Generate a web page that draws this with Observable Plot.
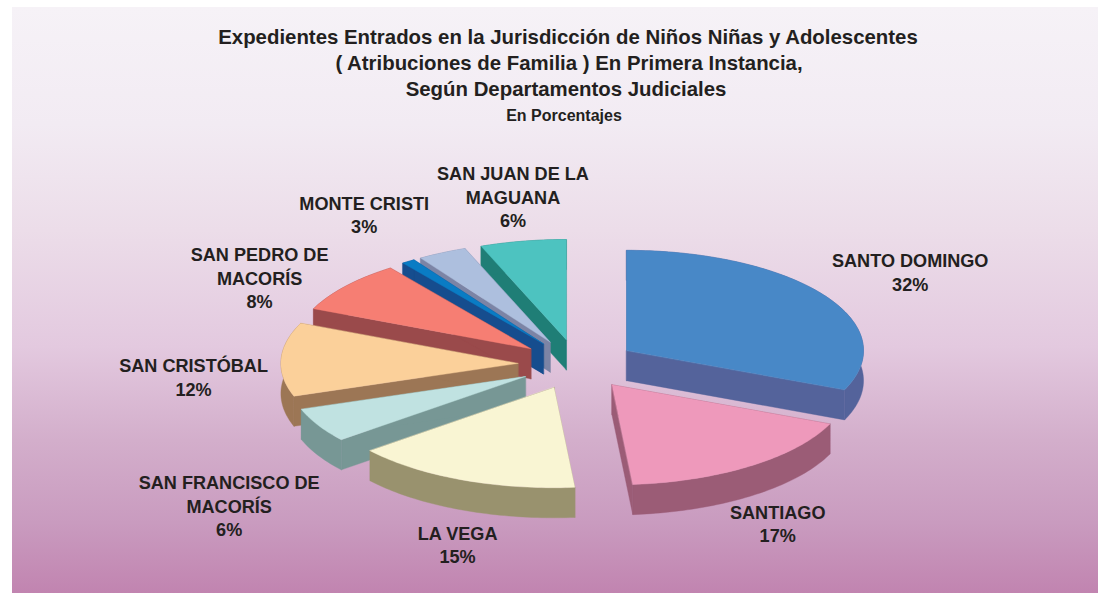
<!DOCTYPE html>
<html lang="es">
<head>
<meta charset="utf-8">
<script src="https://cdn.jsdelivr.net/npm/d3@7"></script>
<script src="https://cdn.jsdelivr.net/npm/@observablehq/plot@0.6"></script>
<style>
html,body{margin:0;padding:0;background:#fff;width:1098px;height:593px;overflow:hidden}
#chart{position:absolute;left:12px;top:7px;width:1086px;height:586px;
 background:linear-gradient(to bottom,#f6f2f7 0%,#f2ebf3 20%,#ecdde9 38%,#e3c9df 58%,#d3aecb 74%,#c99bbf 88%,#c184b0 100%);
 font-family:"Liberation Sans",Arial,sans-serif;color:#231f20}
#head{position:absolute;left:-12px;width:1132px;top:17px;text-align:center;font-weight:bold}
#head .t{font-size:20.4px;line-height:26px}
#head .s{font-size:16px;line-height:28px}
#plot{position:absolute;left:-12px;top:123px}
svg{display:block;background:transparent!important}
</style>
</head>
<body>
<div id="chart">
 <div id="head">
  <div class="t" style="padding-left:4px">Expedientes Entrados en la Jurisdicción de Niños Niñas y Adolescentes</div>
  <div class="t" style="padding-left:6px">( Atribuciones de Familia ) En Primera Instancia,</div>
  <div class="t">Según Departamentos Judiciales</div>
  <div class="s" style="padding-right:4px">En Porcentajes</div>
 </div>
 <div id="plot"></div>
</div>
<script>
// Data
const departments = ["SANTO DOMINGO","SANTIAGO","LA VEGA","SAN FRANCISCO DE\nMACORÍS","SAN CRISTÓBAL","SAN PEDRO DE\nMACORÍS","","MONTE CRISTI","SAN JUAN DE LA\nMAGUANA"];
const shares = [31.4,17.2,15.55,5.55,11.85,8.35,0.9,3.35,5.85];
const shareLabels = ["32%","17%","15%","6%","12%","8%","","3%","6%"];

// Styles
const topColors  = ["#4888c7","#ee99bb","#f9f5d3","#c0e2e1","#fbd09a","#f67e73","#0a7cc4","#adbfde","#4dc3c0"];
const sideColors = ["#54639b","#9b5c76","#99926e","#779795","#9c7655","#9a4a4b","#164d8e","#7c84a5","#1f7e76"];
const drawOrder = [8,7,6,5,4,3,2,0,1];
const labelOffsets = [[86,-24],[26.5,57],[-4,64],[-89,80],[-87.5,17],[-86,-9],[0,0],[-78,-39],[-10,-45]];

// Pie layout, in units of the pie radius
const W = 1098, H = 470, top0 = 130;
const cxPx = 576.6, cyPx = 363.9, rPx = 237;
const tilt = 0.423, depth = 0.127, explode = 0.25;

const total = d3.sum(shares);
let acc = 0;
const slices = shares.map((v,i)=>{
  const a0 = acc/total*2*Math.PI; acc += v;
  const a1 = acc/total*2*Math.PI;
  const mid = (a0+a1)/2;
  return {i,a0,a1,mid,ox:explode*Math.sin(mid),oy:explode*tilt*Math.cos(mid)};
});
const rim = (s,a,drop=0)=>[s.ox+Math.sin(a), s.oy+tilt*Math.cos(a)-drop];
const arc = (s,drop=0,rev=false)=>{
  const n = Math.max(2,Math.ceil((s.a1-s.a0)/0.02));
  const pts = d3.range(n+1).map(k=>rim(s,s.a0+(s.a1-s.a0)*k/n,drop));
  return rev?pts.reverse():pts;
};
const faces = [];
const addFace = (id,pts,fill)=>pts.forEach(p=>faces.push({id,x:p[0],y:p[1],fill}));
for(const i of drawOrder){
  const s = slices[i];
  const apex = [s.ox,s.oy], apexLow=[s.ox,s.oy-depth];
  addFace(i+"-w0",[apex,rim(s,s.a0),rim(s,s.a0,depth),apexLow],sideColors[i]);
  addFace(i+"-w1",[apex,rim(s,s.a1),rim(s,s.a1,depth),apexLow],sideColors[i]);
  addFace(i+"-arc",[...arc(s),...arc(s,depth,true)],sideColors[i]);
  addFace(i+"-top",[apex,...arc(s)],topColors[i]);
}
const labels = slices.filter(s=>departments[s.i]).map(s=>({
  ...s,
  text:departments[s.i]+"\n"+shareLabels[s.i],
  x:s.ox+Math.sin(s.mid),
  y:s.oy+tilt*Math.cos(s.mid)
}));

const chart = Plot.plot({
  width:W,height:H,margin:0,
  x:{axis:null,domain:[-cxPx/rPx,(W-cxPx)/rPx],range:[0,W]},
  y:{axis:null,domain:[(cyPx-top0)/rPx,(cyPx-top0-H)/rPx],range:[0,H]},
  marks:[
    Plot.line(faces,{x:"x",y:"y",z:"id",fill:"fill",stroke:"fill",strokeWidth:0.4,curve:"linear-closed"}),
    ...labels.map(d=>Plot.text([d],{
      x:"x",y:"y",text:"text",
      dx:labelOffsets[d.i][0],dy:labelOffsets[d.i][1],
      fontSize:18.1,fontWeight:"bold",fill:"#231f20",lineHeight:1.3,
      textAnchor:"middle",lineAnchor:"middle",fontFamily:"Liberation Sans, Arial, sans-serif"
    }))
  ]
});
document.getElementById("plot").appendChild(chart);
</script>
</body>
</html>
